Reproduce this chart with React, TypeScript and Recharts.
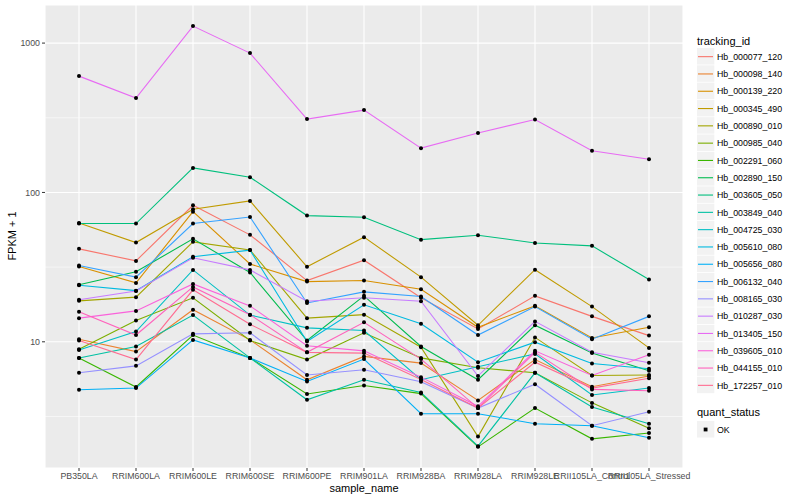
import { LineChart, Line, XAxis, YAxis, CartesianGrid, ReferenceLine } from 'recharts';

document.body.style.margin = '0';

const categories = [
  'PB350LA',
  'RRIM600LA',
  'RRIM600LE',
  'RRIM600SE',
  'RRIM600PE',
  'RRIM901LA',
  'RRIM928BA',
  'RRIM928LA',
  'RRIM928LE',
  'RRII105LA_Control',
  'RRII105LA_Stressed',
];

const trackingIds = [
  'Hb_000077_120',
  'Hb_000098_140',
  'Hb_000139_220',
  'Hb_000345_490',
  'Hb_000890_010',
  'Hb_000985_040',
  'Hb_002291_060',
  'Hb_002890_150',
  'Hb_003605_050',
  'Hb_003849_040',
  'Hb_004725_030',
  'Hb_005610_080',
  'Hb_005656_080',
  'Hb_006132_040',
  'Hb_008165_030',
  'Hb_010287_030',
  'Hb_013405_150',
  'Hb_039605_010',
  'Hb_044155_010',
  'Hb_172257_010',
];

// FPKM + 1 per sample, in the order of categories
const hb000077_120 = [41.9, 34.8, 82.1, 52.0, 25.7, 35.2, 19.7, 12.2, 20.3, 14.8, 11.0];
const hb000098_140 = [10.4, 8.6, 16.4, 10.3, 5.57, 7.98, 7.2, 4.05, 7.6, 5.0, 5.9];
const hb000139_220 = [31.9, 24.8, 74.4, 33.2, 25.3, 25.7, 22.5, 12.5, 17.4, 10.6, 12.5];
const hb000345_490 = [62.5, 46.2, 77.2, 87.7, 31.8, 50.2, 27.1, 12.9, 30.4, 17.2, 9.1];
const hb000890_010 = [18.8, 19.9, 46.7, 41.2, 14.4, 15.2, 9.2, 2.32, 10.7, 5.95, 6.0];
const hb000985_040 = [8.9, 13.9, 19.7, 10.2, 7.6, 11.5, 7.8, 6.7, 6.2, 3.9, 2.64];
const hb002291_060 = [7.8, 4.98, 11.1, 7.8, 4.47, 5.1, 4.5, 1.98, 3.6, 2.24, 2.45];
const hb002890_150 = [24.1, 29.4, 48.9, 29.1, 10.2, 20.3, 9.3, 5.57, 12.9, 8.4, 6.4];
const hb003605_050 = [61.9, 61.9, 146, 126.4, 70.0, 68.3, 48.3, 51.7, 45.9, 43.9, 26.1];
const hb003849_040 = [7.8, 9.3, 15.1, 7.8, 4.09, 5.57, 4.58, 2.0, 6.2, 3.66, 2.83];
const hb004725_030 = [8.8, 11.7, 30.3, 15.1, 12.4, 11.9, 5.57, 6.8, 8.3, 4.4, 4.9];
const hb005610_080 = [23.9, 22.0, 37.1, 41.1, 10.05, 17.7, 13.2, 7.3, 9.95, 7.15, 6.6];
const hb005656_080 = [4.77, 4.9, 10.3, 7.8, 5.42, 7.66, 3.3, 3.3, 2.83, 2.74, 2.28];
const hb006132_040 = [32.4, 27.1, 61.9, 68.5, 18.2, 21.6, 20.1, 11.1, 17.2, 10.4, 14.8];
const hb008165_030 = [6.2, 6.9, 11.3, 11.5, 6.0, 6.5, 5.4, 3.6, 5.2, 2.74, 3.4];
const hb010287_030 = [19.1, 21.9, 36.5, 30.3, 18.7, 19.7, 18.7, 5.9, 13.7, 8.5, 7.24];
const hb013405_150 = [601, 429, 1300, 857, 310, 356, 198, 250, 308, 190, 167];
const hb039605_010 = [14.4, 16.1, 24.4, 17.4, 9.4, 8.7, 5.8, 3.7, 8.7, 5.95, 8.2];
const hb044155_010 = [15.9, 11.1, 23.3, 15.2, 8.5, 13.5, 7.66, 3.6, 8.5, 4.8, 4.7];
const hb172257_010 = [10.2, 7.6, 22.3, 13.1, 8.5, 8.4, 5.6, 3.6, 7.3, 4.9, 5.7];

const seriesValues = [
  hb000077_120, hb000098_140, hb000139_220, hb000345_490, hb000890_010,
  hb000985_040, hb002291_060, hb002890_150, hb003605_050, hb003849_040,
  hb004725_030, hb005610_080, hb005656_080, hb006132_040, hb008165_030,
  hb010287_030, hb013405_150, hb039605_010, hb044155_010, hb172257_010,
];

const yTicks = [10, 100, 1000];
const minorTicks = [Math.sqrt(10), Math.sqrt(1000), Math.sqrt(100000)];

// ggplot hue palette, 20 levels
const colors = [
  '#F8766D', '#EA8331', '#D89000', '#C09B00', '#A3A500',
  '#7CAE00', '#39B600', '#00BB4E', '#00BF7D', '#00C1A3',
  '#00BFC4', '#00BAE0', '#00B0F6', '#35A2FF', '#9590FF',
  '#C77CFF', '#E76BF3', '#FA62DB', '#FF62BC', '#FF6C91',
];

const data = categories.map((name, i) => {
  const row: Record<string, string | number> = { sample_name: name };
  trackingIds.forEach((id, k) => {
    row[id] = seriesValues[k][i];
  });
  return row;
});

const FONT = '"Liberation Sans", Arial, Helvetica, sans-serif';

function Legend() {
  const keyH = 17.3;
  const top = 48;
  return (
    <svg
      width={110}
      height={500}
      style={{ position: 'absolute', left: 690, top: 0, fontFamily: FONT }}
    >
      <text x={7} y={44.5} fontSize={11} fill="#000">tracking_id</text>
      {trackingIds.map((id, i) => {
        const y = top + i * keyH;
        return (
          <g key={id}>
            <rect x={7} y={y} width={keyH} height={keyH - 0.8} fill="#F2F2F2" />
            <line x1={8} x2={23} y1={y + keyH / 2} y2={y + keyH / 2} stroke={colors[i]} strokeWidth={1.1} />
            <text x={27} y={y + keyH / 2 + 3.2} fontSize={8.8} fill="#000">{id}</text>
          </g>
        );
      })}
      <text x={7} y={416} fontSize={11} fill="#000">quant_status</text>
      <rect x={7} y={421} width={keyH} height={keyH - 0.8} fill="#F2F2F2" />
      <rect x={13.7} y={427.6} width={3.8} height={3.8} fill="#000" />
      <text x={27} y={432.8} fontSize={8.8} fill="#000">OK</text>
    </svg>
  );
}

export default function App() {
  return (
    <div style={{ position: 'relative', width: 800, height: 500, background: '#fff', fontFamily: FONT }}>
      <LineChart
        width={800}
        height={500}
        data={data}
        margin={{ top: 5, right: 117, bottom: 0, left: 0 }}
      >
        <CartesianGrid fill="#EBEBEB" stroke="#FFFFFF" strokeWidth={1.1} />
        {minorTicks.map((v) => (
          <ReferenceLine key={v} y={v} stroke="#FFFFFF" strokeWidth={0.55} ifOverflow="hidden" />
        ))}
        <XAxis
          dataKey="sample_name"
          interval={0}
          padding={{ left: 34, right: 34 }}
          axisLine={false}
          tickLine={{ stroke: '#333333', strokeWidth: 1 }}
          tickSize={3}
          tickMargin={2}
          height={32}
          tick={{ fill: '#4D4D4D', fontSize: 8.8, fontFamily: FONT }}
        />
        <YAxis
          scale="log"
          domain={[1.429, 1799]}
          allowDataOverflow
          ticks={yTicks}
          width={45}
          axisLine={false}
          tickLine={{ stroke: '#333333', strokeWidth: 1 }}
          tickSize={3}
          tickMargin={2}
          tick={{ fill: '#4D4D4D', fontSize: 8.8, fontFamily: FONT }}
        />
        {trackingIds.map((id, k) => (
          <Line
            key={id}
            type="linear"
            dataKey={id}
            stroke={colors[k]}
            strokeWidth={1.1}
            dot={false}
            activeDot={false}
            isAnimationActive={false}
          />
        ))}
        {trackingIds.map((id) => (
          <Line
            key={id + '_pts'}
            type="linear"
            dataKey={id}
            stroke="none"
            dot={{ r: 2, fill: '#000000', stroke: 'none' }}
            activeDot={false}
            isAnimationActive={false}
            legendType="none"
          />
        ))}
      </LineChart>
      <div
        style={{
          position: 'absolute',
          left: 364,
          top: 482,
          transform: 'translateX(-50%)',
          fontSize: 11,
          color: '#000',
          whiteSpace: 'nowrap',
        }}
      >
        sample_name
      </div>
      <div
        style={{
          position: 'absolute',
          left: 12,
          top: 236,
          transform: 'translate(-50%, -50%) rotate(-90deg)',
          fontSize: 11,
          color: '#000',
          whiteSpace: 'nowrap',
        }}
      >
        FPKM + 1
      </div>
      <Legend />
    </div>
  );
}
